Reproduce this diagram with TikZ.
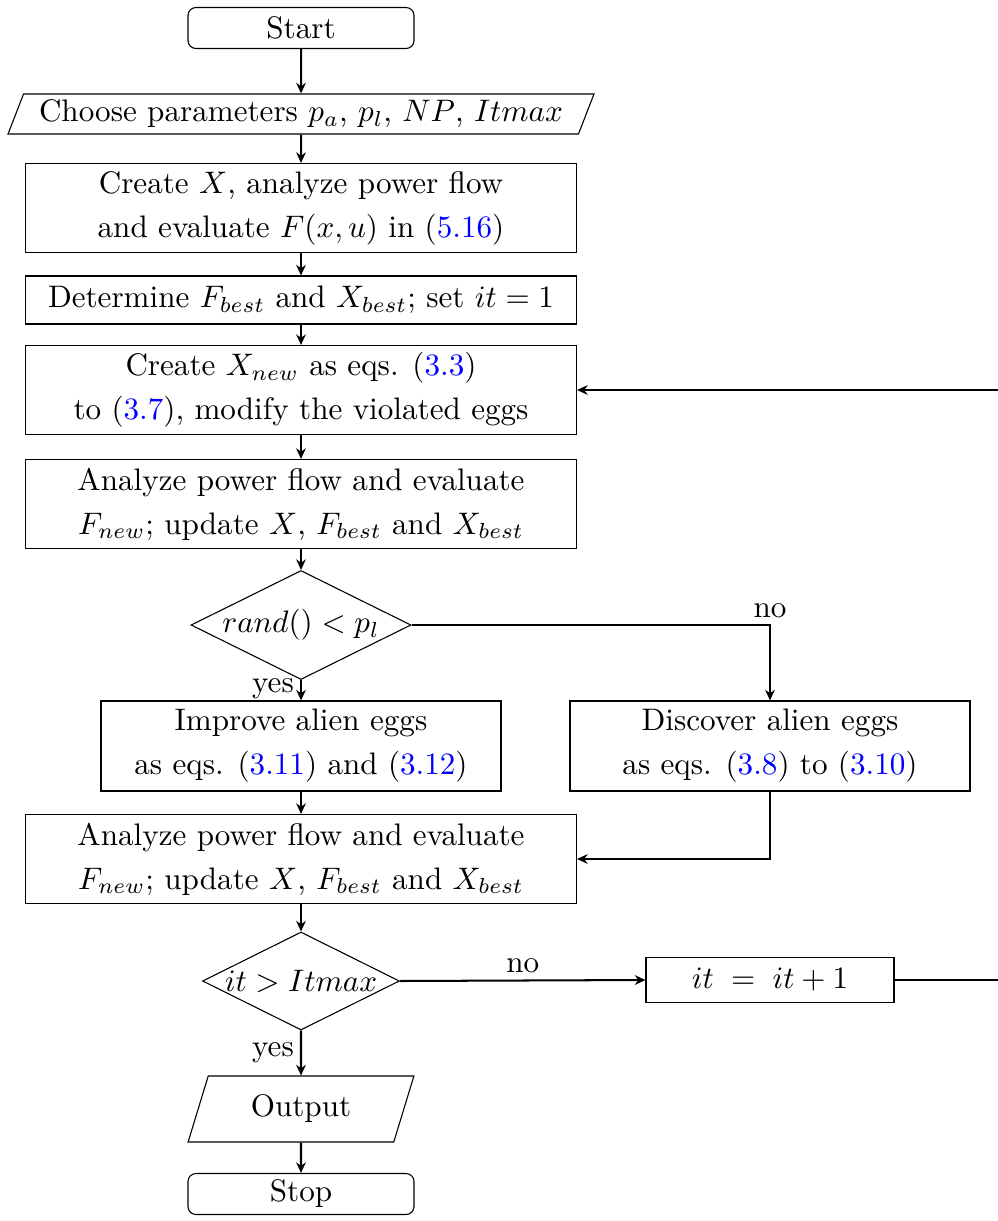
\documentclass[tikz,border=0pt]{standalone}
\usetikzlibrary{shapes.geometric,arrows.meta}
\newcommand\eqref[1]{(\textcolor{blue}{#1})}
% one drawing unit
\newcommand\U{0.3213pt}
\begin{document}
\begin{tikzpicture}[
  x=\U, y=-\U,
  every node/.style={font=\fontsize{10}{14.1}\selectfont},
  box/.style={draw, rectangle, align=center, inner sep=2pt, line width=0.35pt,
              minimum width=551*\U, minimum height=89*\U},
  onebox/.style={box, minimum height=48*\U},
  sidebox/.style={box, minimum width=400*\U, minimum height=90*\U},
  term/.style={draw, rectangle, rounded corners=8*\U, line width=0.35pt,
               inner ysep=1pt, minimum width=226*\U, minimum height=41*\U},
  io/.style={draw, trapezium, trapezium stretches=true, line width=0.35pt,
             inner ysep=1pt,
             trapezium left angle=#1, trapezium right angle=180-#1},
  dec/.style={draw, diamond, inner sep=0pt, line width=0.35pt},
  flow/.style={-{Stealth[length=3.4pt,width=3.1pt]}, line width=0.65pt},
  lbl/.style={inner sep=2pt}
]
\useasboundingbox (0,0) rectangle (998,1221);

% main column
\node[term] (start) at (301,28) {Start};
\node[io=66, minimum width=587*\U, minimum height=40*\U] (param) at (301,114)
  {Choose parameters $p_a$, $p_l$, $NP$, $Itmax$};
\node[box] (init) at (301,208)
  {Create $X$, analyze power flow\\ and evaluate $F(x,u)$ in \eqref{5.16}};
\node[onebox] (best) at (301,300)
  {Determine $F_{best}$ and $X_{best}$; set $it=1$};
\node[box] (newx) at (301,390)
  {Create $X_{new}$ as eqs. \eqref{3.3}\\ to \eqref{3.7}, modify the violated eggs};
\node[box] (eval1) at (301,504)
  {Analyze power flow and evaluate\\ $F_{new}$; update $X$, $F_{best}$ and $X_{best}$};
\node[dec, minimum width=220*\U, minimum height=109*\U] (dec1) at (301,625)
  {\makebox[0pt]{$rand() < p_l$}};
\node[sidebox] (improve) at (301,746)
  {Improve alien eggs\\ as eqs. \eqref{3.11} and \eqref{3.12}};
\node[sidebox] (discover) at (770,746)
  {Discover alien eggs\\ as eqs. \eqref{3.8} to \eqref{3.10}};
\node[box] (eval2) at (301,859)
  {Analyze power flow and evaluate\\ $F_{new}$; update $X$, $F_{best}$ and $X_{best}$};
\node[dec, minimum width=197*\U, minimum height=98*\U] (dec2) at (301,981)
  {\makebox[0pt]{$it > Itmax$}};
\node[draw, rectangle, line width=0.35pt, minimum width=248*\U, minimum height=45*\U] (inc) at (770,980)
  {$it\;=\;it+1$};
\node[io=69, minimum width=226*\U, minimum height=66*\U] (out) at (301,1109) {Output};
\node[term] (stop) at (301,1194) {Stop};

% loop-back corner beyond the right margin
\coordinate (back) at (1010,980);

% connectors
\draw[flow] (start) -- (param);
\draw[flow] (param) -- (init);
\draw[flow] (init) -- (best);
\draw[flow] (best) -- (newx);
\draw[flow] (newx) -- (eval1);
\draw[flow] (eval1) -- (dec1);
\draw[flow] (dec1) -- node[lbl, left, pos=0.4] {yes} (improve);
\draw[flow] (dec1.east) -| node[lbl, above, pos=0.5] {no} (discover.north);
\draw[flow] (improve) -- (eval2);
\draw[flow] (discover.south) |- (eval2.east);
\draw[flow] (eval2) -- (dec2);
\draw[flow] (dec2.east) -- node[lbl, above] {no} (inc.west);
\draw[flow] (inc.east) -- (back) |- (newx.east);
\draw[flow] (dec2) -- node[lbl, left] {yes} (out);
\draw[flow] (out) -- (stop);
\end{tikzpicture}
\end{document}
